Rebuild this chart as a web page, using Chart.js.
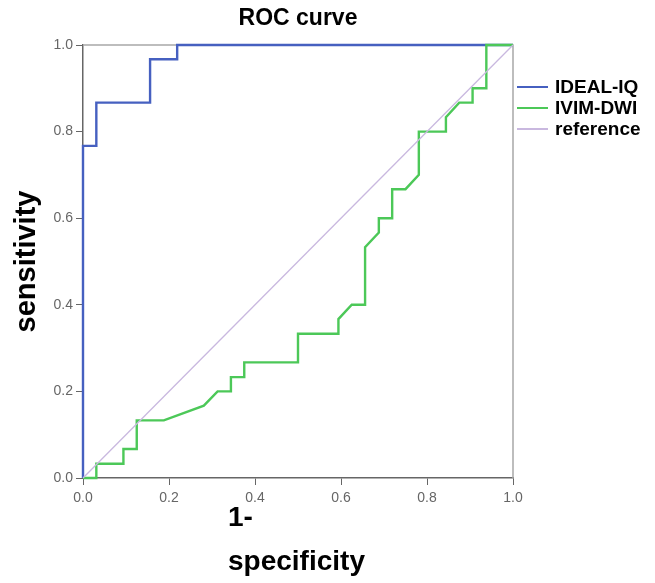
<!DOCTYPE html>
<html>
<head>
<meta charset="utf-8">
<script src="https://cdn.jsdelivr.net/npm/chart.js@4.4.0/dist/chart.umd.min.js"></script>
<style>
  html, body { margin: 0; padding: 0; background: #fff; }
</style>
</head>
<body>
<canvas id="rocChart" width="655" height="583"></canvas>
<script>
// ROC coordinates (1-specificity, sensitivity)
const seriesNames = ['IDEAL-IQ', 'IVIM-DWI', 'reference'];
const idealFpr = [0, 0, 0.031, 0.031, 0.156, 0.156, 0.219, 0.219, 1];
const idealTpr = [0, 0.767, 0.767, 0.867, 0.867, 0.967, 0.967, 1, 1];
const ivimFpr = [0, 0.031, 0.031, 0.094, 0.094, 0.125, 0.125, 0.188, 0.281, 0.313, 0.344, 0.344,
  0.375, 0.375, 0.5, 0.5, 0.594, 0.594, 0.625, 0.656, 0.656, 0.688, 0.688, 0.719, 0.719, 0.75,
  0.781, 0.781, 0.844, 0.844, 0.875, 0.906, 0.906, 0.938, 0.938, 1];
const ivimTpr = [0, 0, 0.033, 0.033, 0.067, 0.067, 0.133, 0.133, 0.167, 0.2, 0.2, 0.233,
  0.233, 0.267, 0.267, 0.333, 0.333, 0.367, 0.4, 0.4, 0.533, 0.567, 0.6, 0.6, 0.667, 0.667,
  0.7, 0.8, 0.8, 0.833, 0.867, 0.867, 0.9, 0.9, 1, 1];
const refFpr = [0, 1];
const refTpr = [0, 1];
const tickValues = [0, 0.2, 0.4, 0.6, 0.8, 1];

const FONT = '"Liberation Sans", Arial, Helvetica, sans-serif';
Chart.defaults.font.family = FONT;

const toPoints = (xs, ys) => xs.map((x, i) => ({ x: x, y: ys[i] }));

// light frame on top/right of the plot
const frame = {
  id: 'frame',
  beforeDatasetsDraw(chart) {
    const { ctx, chartArea: a } = chart;
    ctx.save();
    ctx.strokeStyle = '#a8a8a8';
    ctx.lineWidth = 1.5;
    ctx.beginPath();
    ctx.moveTo(a.left, a.top);
    ctx.lineTo(a.right, a.top);
    ctx.lineTo(a.right, a.bottom);
    ctx.stroke();
    ctx.restore();
  }
};

// legend to the right of the plot
const sideLegend = {
  id: 'sideLegend',
  afterDraw(chart) {
    const { ctx, chartArea: a } = chart;
    ctx.save();
    ctx.font = 'bold 19px ' + FONT;
    ctx.textBaseline = 'middle';
    chart.data.datasets.forEach((ds, i) => {
      const y = a.top + 42 + i * 21;
      ctx.strokeStyle = ds.borderColor;
      ctx.lineWidth = 2;
      ctx.beginPath();
      ctx.moveTo(a.right + 4, y);
      ctx.lineTo(a.right + 35, y);
      ctx.stroke();
      ctx.fillStyle = '#000';
      ctx.fillText(ds.label, a.right + 42, y + 1);
    });
    ctx.restore();
  }
};

// two-line, left aligned x axis title
const xTitle = {
  id: 'xTitle',
  afterDraw(chart) {
    const { ctx, chartArea: a } = chart;
    ctx.save();
    ctx.font = 'bold 28px ' + FONT;
    ctx.fillStyle = '#000';
    ctx.textAlign = 'left';
    ctx.textBaseline = 'alphabetic';
    ctx.fillText('1-', a.left + 145, a.bottom + 48);
    ctx.fillText('specificity', a.left + 145, a.bottom + 92);
    ctx.restore();
  }
};

const ctx = document.getElementById('rocChart').getContext('2d');
new Chart(ctx, {
  type: 'scatter',
  data: {
    datasets: [
      { label: seriesNames[0], data: toPoints(idealFpr, idealTpr), borderColor: '#4660c0', order: 2 },
      { label: seriesNames[1], data: toPoints(ivimFpr, ivimTpr), borderColor: '#4cc858', order: 1 },
      { label: seriesNames[2], data: toPoints(refFpr, refTpr), borderColor: '#c9b8df', order: 0 }
    ].map((ds, i) => Object.assign(ds, {
      showLine: true, pointRadius: 0, fill: false, tension: 0, clip: 4,
      borderWidth: i < 2 ? 2.4 : 1.3
    }))
  },
  options: {
    responsive: false,
    animation: false,
    layout: { padding: { left: 0, right: 142, top: 0, bottom: 0 } },
    plugins: {
      legend: { display: false },
      tooltip: { enabled: false },
      title: {
        display: true,
        text: 'ROC curve',
        fullSize: false,
        color: '#000',
        font: { size: 23, weight: 'bold' },
        padding: { top: 5, bottom: 12.4 }
      }
    },
    scales: {
      x: {
        type: 'linear',
        min: 0,
        max: 1,
        afterBuildTicks: s => { s.ticks = tickValues.map(v => ({ value: v })); },
        afterFit: s => { s.height = 105; },
        ticks: { callback: v => v.toFixed(1), color: '#666', font: { size: 14 }, padding: 5, maxRotation: 0 },
        grid: { drawOnChartArea: false, tickLength: 7, color: '#666' },
        border: { color: '#666', width: 1.5 }
      },
      y: {
        type: 'linear',
        min: 0,
        max: 1,
        afterBuildTicks: s => { s.ticks = tickValues.map(v => ({ value: v })); },
        afterFit: s => { s.width = 83; },
        ticks: { callback: v => v.toFixed(1), color: '#666', font: { size: 14 }, padding: 3 },
        grid: { drawOnChartArea: false, tickLength: 7, color: '#666' },
        border: { color: '#666', width: 1.5 },
        title: {
          display: true,
          text: 'sensitivity',
          color: '#000',
          font: { size: 29, weight: 'bold' },
          padding: { top: 10, bottom: 0 }
        }
      }
    }
  },
  plugins: [frame, sideLegend, xTitle]
});
</script>
</body>
</html>
